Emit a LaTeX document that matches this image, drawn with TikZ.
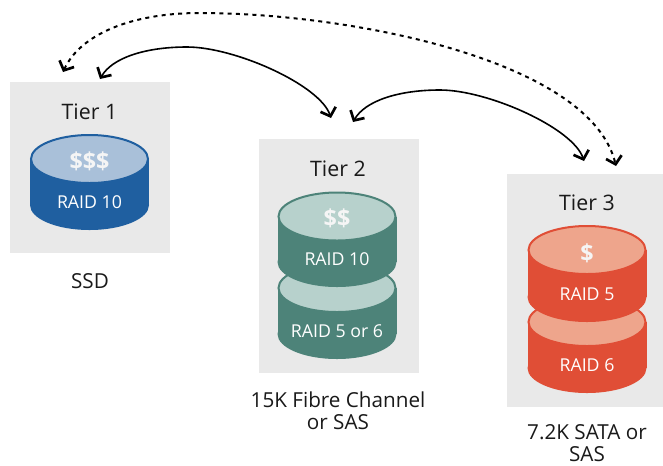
\documentclass[tikz,border=0pt]{standalone}
\usepackage{fontspec}
\setmainfont{Open Sans}
\usepackage{tikz}
\usetikzlibrary{calc,positioning,arrows.meta}

\definecolor{panelgray}{HTML}{E9E9E9}
\definecolor{tierblue}{HTML}{1F5FA0}
\definecolor{tierbluetop}{HTML}{A9C0D9}
\definecolor{tierteal}{HTML}{4D8379}
\definecolor{tiertealtop}{HTML}{B7D1CC}
\definecolor{tierred}{HTML}{E04E36}
\definecolor{tierredtop}{HTML}{EEA58C}

\tikzset{
    panel/.style={fill=panelgray, inner sep=0pt, minimum width=120pt},
    tiertitle/.style={font=\fontsize{16}{19}\selectfont, text=black!90},
    raidtext/.style={font=\fontsize{13.3}{16}\selectfont, text=white},
    cashtext/.style={font=\fontsize{17.5}{20}\selectfont\bfseries, text=white!92!gray},
    caption/.style={font=\fontsize{15.5}{16.5}\selectfont, align=center, text=black!90, inner sep=0pt},
    link/.style={line width=1.2pt, >={Straight Barb[length=5.5pt,width=12pt,line width=2pt]}, <->},
    dotlink/.style={link, line width=1.5pt, dash pattern=on 3pt off 3.2pt}
}

% center, top of body, bottom of body, body colour, top colour
\newcommand{\drum}[5]{
    \fill[#4] (#1,#3) ellipse [x radius=59.5, y radius=25];
    \fill[#4] (#1-59.5,#2) rectangle (#1+59.5,#3);
    \filldraw[fill=#5, draw=#4, line width=1.5pt] (#1,#2) ellipse [x radius=58.5, y radius=24];
}

\begin{document}
\begin{tikzpicture}[x=0.75pt, y=-0.75pt]
    \useasboundingbox (0,0) rectangle (663,465);

    % panels
    \node[panel, minimum height=128.25pt] (tier1) at (90,167.5) {};
    \node[panel, minimum height=175.5pt] (tier2) at (339,256) {};
    \node[panel, minimum height=174.75pt] (tier3) at (587,290.5) {};

    % drums
    \drum{89.5}{159}{205}{tierblue}{tierbluetop}
    \drum{337}{288}{334}{tierteal}{tiertealtop}
    \drum{337}{216.5}{262}{tierteal}{tiertealtop}
    \drum{587}{322}{368}{tierred}{tierredtop}
    \drum{587}{250}{297}{tierred}{tierredtop}

    % texts
    \node[tiertitle] (title1) at (89.5,112) {Tier 1};
    \node[tiertitle] (title2) at (338,169) {Tier 2};
    \node[tiertitle] (title3) at (587,203) {Tier 3};
    \node[cashtext] (cash1) at (89.5,161) {\$\$\$};
    \node[cashtext] (cash2) at (337,218) {\$\$};
    \node[cashtext] (cash3) at (587,253) {\$};
    \node[raidtext] (raid1) at (89.5,202) {RAID 10};
    \node[raidtext] (raid2) at (337,259) {RAID 10};
    \node[raidtext] (raid3) at (337,331) {RAID 5 or 6};
    \node[raidtext] (raid4) at (587,294) {RAID 5};
    \node[raidtext] (raid5) at (587,365) {RAID 6};
    \node[caption] (ssd) at (90,281) {SSD};
    \node[caption] (fibre) at (338,411) {15K Fibre Channel\\or SAS};
    \node[caption] (sata) at (587,443) {7.2K SATA or\\SAS};

    % arrow ends
    \coordinate (dot1) at (63,72);
    \coordinate (dot3) at (616,166);
    \coordinate (fast1) at (100,79);
    \coordinate (fast2) at (331,118);
    \coordinate (slow2) at (353,122);
    \coordinate (slow3) at (584,161);

    % arrows
    \draw[dotlink] (dot1) .. controls (80,35) and (130,13) .. (200,13)
        .. controls (350,13) and (590,60) .. (dot3);
    \draw[link] (fast1) .. controls (112,58) and (145,47) .. (187,47)
        .. controls (235,47) and (320,85) .. (fast2);
    \draw[link] (slow2) .. controls (365,101) and (398,90) .. (440,90)
        .. controls (488,90) and (573,128) .. (slow3);
\end{tikzpicture}
\end{document}
